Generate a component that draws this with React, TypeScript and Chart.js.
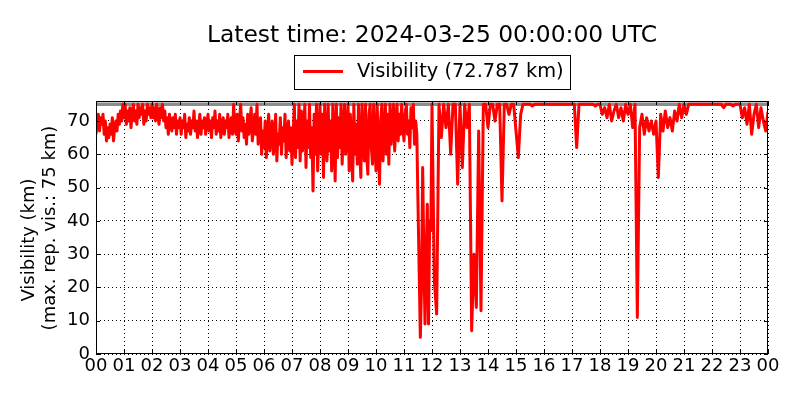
import React, { useEffect, useRef } from 'react';
import { Chart, registerables } from 'chart.js';

Chart.register(...registerables);

// Hour tick labels (00 .. 23, 00)
const hourLabels = [
  '00', '01', '02', '03', '04', '05', '06', '07', '08', '09', '10', '11',
  '12', '13', '14', '15', '16', '17', '18', '19', '20', '21', '22', '23', '00',
];
const yTicks = [0, 10, 20, 30, 40, 50, 60, 70];

// Visibility (km), 00-12 UTC at 2.5-minute samples (24 per hour)
const vis00to06 = [
  66, 70, 72, 67, 71, 69, 72, 66, 70, 64, 68, 65, 69, 66, 71, 64, 68, 70, 67, 72, 69, 73, 70, 75,
  71, 75, 69, 73, 70, 74, 68, 72, 75, 70, 73, 69, 75, 71, 74, 72, 75, 69, 73, 70, 75, 72, 74, 71,
  75, 71, 74, 70, 75, 72, 69, 74, 71, 75, 70, 73, 68, 71, 66, 72, 69, 67, 71, 68, 72, 66, 70, 68,
  71, 66, 70, 68, 72, 65, 69, 67, 71, 66, 70, 68, 73, 67, 70, 65, 69, 72, 66, 70, 68, 71, 66, 69,
  72, 67, 70, 65, 71, 68, 73, 66, 70, 67, 72, 65, 69, 71, 66, 70, 68, 72, 65, 69, 71, 66, 75, 68,
  66, 72, 64, 70, 75, 67, 71, 65, 69, 63, 72, 66, 70, 74, 64, 68, 72, 66, 75, 63, 69, 71, 60, 67,
];
const vis06to12 = [
  62, 70, 59, 67, 72, 61, 66, 70, 60, 64, 72, 58, 66, 63, 71, 60, 68, 64, 72, 59, 66, 70, 61, 68,
  57, 66, 75, 59, 70, 62, 75, 58, 73, 61, 67, 75, 56, 70, 62, 75, 59, 68, 49, 72, 60, 75, 55, 66,
  75, 60, 72, 53, 75, 64, 58, 75, 61, 70, 55, 75, 66, 52, 75, 59, 71, 62, 75, 57, 68, 75, 60, 67,
  75, 55, 72, 63, 52, 75, 60, 69, 57, 75, 62, 53, 75, 65, 58, 75, 60, 54, 72, 75, 62, 57, 75, 64,
  55, 75, 62, 51, 70, 75, 58, 66, 75, 60, 72, 57, 75, 63, 68, 75, 61, 70, 75, 64, 72, 66, 75, 68,
  64, 72, 75, 66, 70, 62, 74, 68, 75, 63, 70, 66, 45, 25, 5, 20, 56, 30, 9, 30, 45, 9, 40, 37,
];
// Visibility (km), 12-24 UTC at 5-minute samples (12 per hour)
const vis12to18 = [
  75, 22, 12, 75, 65, 75, 68, 75, 60, 75, 75, 51,
  75, 56, 75, 68, 75, 7, 30, 14, 67, 13, 75, 75,
  68, 75, 75, 70, 75, 75, 46, 75, 75, 72, 75, 75,
  67, 59, 72, 75, 75, 75, 75, 74.5, 75, 75, 75, 75,
  75, 75, 75, 75, 75, 75, 75, 75, 75, 75, 75, 75,
  75, 75, 62, 75, 75, 75, 75, 75, 75, 75, 74.5, 75,
];
const vis18to24 = [
  75, 72, 74, 71, 75, 70, 73, 75, 71, 74, 70, 75,
  72, 75, 68, 75, 11, 68, 72, 66, 71, 67, 70, 66,
  70, 53, 72, 67, 73, 68, 71, 67, 73, 70, 75, 71,
  75, 72, 75, 75, 75, 75, 75, 75, 75, 75, 75, 75,
  75, 75, 75, 75, 75, 74, 75, 75, 75, 74.5, 75, 75,
  75, 71, 74, 69, 75, 66, 72, 75, 68, 74, 70, 67,
];
const latestVis = 72.787;
const maxReported = 75;

const FONT = '"DejaVu Sans", "Liberation Sans", sans-serif';

export default function App() {
  const ref = useRef<HTMLCanvasElement>(null);

  useEffect(() => {
    document.body.style.margin = '0';
    const segs: [number[], number, number][] = [
      [vis00to06, 0, 24],
      [vis06to12, 6, 24],
      [vis12to18, 12, 12],
      [vis18to24, 18, 12],
    ];
    const points: { x: number; y: number }[] = [];
    for (const [arr, start, perHour] of segs) {
      arr.forEach((v, i) => points.push({ x: start + i / perHour, y: v }));
    }
    points.push({ x: 24, y: latestVis });
    const maxLine = [{ x: 0, y: maxReported }, { x: 24, y: maxReported }];

    const decor = {
      id: 'decor',
      afterDraw(chart: any) {
        const { ctx, chartArea } = chart;
        const { left, right, top, bottom } = chartArea;
        const xs = chart.scales.x;
        const ys = chart.scales.y;
        ctx.save();
        // frame
        ctx.strokeStyle = '#000';
        ctx.lineWidth = 1;
        ctx.strokeRect(left + 0.5, top + 0.5, right - left - 1, bottom - top - 1);
        // inner ticks
        ctx.beginPath();
        for (let h = 0; h <= 24; h++) {
          const x = Math.round(xs.getPixelForValue(h)) + 0.5;
          ctx.moveTo(x, bottom);
          ctx.lineTo(x, bottom - 4);
          ctx.moveTo(x, top);
          ctx.lineTo(x, top + 4);
        }
        for (const t of yTicks) {
          const y = Math.round(ys.getPixelForValue(t)) + 0.5;
          ctx.moveTo(left, y);
          ctx.lineTo(left + 4, y);
          ctx.moveTo(right, y);
          ctx.lineTo(right - 4, y);
        }
        ctx.stroke();

        // title
        ctx.fillStyle = '#000';
        ctx.font = `23.4px ${FONT}`;
        ctx.textAlign = 'center';
        ctx.textBaseline = 'alphabetic';
        ctx.fillText('Latest time: 2024-03-25 00:00:00 UTC', (left + right) / 2, 42);

        // legend
        ctx.lineWidth = 1;
        ctx.strokeStyle = '#000';
        ctx.strokeRect(294.5, 55.5, 276, 34);
        ctx.strokeStyle = '#ff0000';
        ctx.lineWidth = 3;
        ctx.beginPath();
        ctx.moveTo(303, 71.5);
        ctx.lineTo(343, 71.5);
        ctx.stroke();
        ctx.font = `19.4px ${FONT}`;
        ctx.textAlign = 'left';
        ctx.textBaseline = 'middle';
        ctx.fillText(`Visibility (${latestVis.toFixed(3)} km)`, 357, 72);

        // y axis title
        ctx.font = `18px ${FONT}`;
        ctx.save();
        ctx.translate(29, 240);
        ctx.rotate(-Math.PI / 2);
        ctx.textAlign = 'center';
        ctx.fillText('Visibility (km)', 0, 0);
        ctx.restore();
        ctx.save();
        ctx.translate(50, 228);
        ctx.rotate(-Math.PI / 2);
        ctx.textAlign = 'center';
        ctx.fillText(`(max. rep. vis.: ${maxReported} km)`, 0, 0);
        ctx.restore();

        ctx.restore();
      },
    };

    const chart = new Chart(ref.current!, {
      type: 'line',
      data: {
        datasets: [
          {
            label: 'max',
            data: maxLine,
            borderColor: '#8c8c8c',
            borderWidth: 3.5,
            pointRadius: 0,
            order: 2,
          },
          {
            label: 'Visibility',
            data: points,
            borderColor: '#ff0000',
            borderWidth: 3,
            borderJoinStyle: 'round',
            pointRadius: 0,
            tension: 0,
            order: 1,
          },
        ],
      },
      options: {
        responsive: false,
        animation: false,
        events: [],
        layout: { padding: { left: 0, right: 32, top: 101, bottom: 0 } },
        plugins: {
          legend: { display: false },
          title: { display: false },
          tooltip: { enabled: false },
        },
        scales: {
          x: {
            type: 'linear',
            min: 0,
            max: 24,
            afterFit: (s: any) => { s.height = 46; },
            ticks: {
              stepSize: 1,
              autoSkip: false,
              maxRotation: 0,
              padding: 2,
              color: '#000',
              font: { family: FONT, size: 18 },
              callback: (v: any) => hourLabels[Math.round(v)] ?? '',
            },
            grid: {
              color: '#000',
              lineWidth: 1,
              drawTicks: false,
            },
            border: { display: false, dash: [1, 3] },
          },
          y: {
            min: 0,
            max: 76,
            afterFit: (s: any) => { s.width = 96; },
            ticks: {
              stepSize: 10,
              includeBounds: false,
              padding: 6,
              color: '#000',
              font: { family: FONT, size: 18 },
            },
            grid: {
              color: '#000',
              lineWidth: 1,
              drawTicks: false,
            },
            border: { display: false, dash: [1, 3] },
          },
        },
      },
      plugins: [decor],
    });
    return () => chart.destroy();
  }, []);

  return (
    <div style={{ position: 'absolute', left: 0, top: 0, width: 800, height: 400 }}>
      <canvas ref={ref} width={800} height={400} />
    </div>
  );
}
